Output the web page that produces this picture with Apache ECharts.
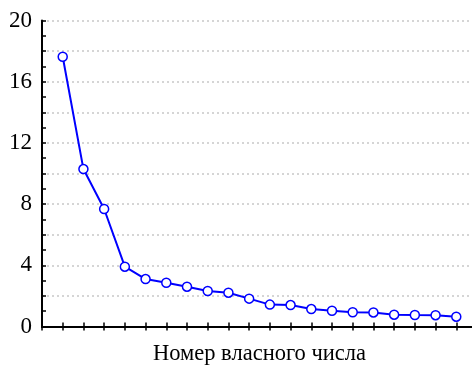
<!DOCTYPE html>
<html><head><meta charset="utf-8">
<script src="https://cdn.jsdelivr.net/npm/echarts@6/dist/echarts.min.js"></script>
<style>html,body{margin:0;padding:0;background:#fff}#c{width:472px;height:365px}</style>
</head><body><div id="c"></div>
<script>
const eigenIndex = [1,2,3,4,5,6,7,8,9,10,11,12,13,14,15,16,17,18,19,20];
const eigenValues = [17.63,10.29,7.68,3.91,3.10,2.86,2.60,2.32,2.21,1.82,1.43,1.40,1.14,1.03,0.93,0.92,0.77,0.75,0.74,0.64];
const yTickLabels = [0,4,8,12,16,20];
const xTitle = 'Номер власного числа';

const chart = echarts.init(document.getElementById('c'), null, {renderer:'canvas'});
const font = '"Liberation Serif","Times New Roman",serif';
const axisLine = {show:true, lineStyle:{color:'#000', width:2}};
chart.setOption({
  animation:false,
  grid:{left:42, top:20.5, width:435, height:306, containLabel:false, outerBoundsMode:'none'},
  xAxis:[
    {type:'value', min:0, max:21, interval:1, position:'bottom',
     axisLine:axisLine, axisTick:{show:true, inside:true, length:4, lineStyle:{color:'#000',width:1.5}},
     axisLabel:{show:false}, splitLine:{show:false},
     name:xTitle, nameLocation:'middle', nameGap:16,
     nameTextStyle:{fontFamily:font, fontSize:22.5, color:'#000', verticalAlign:'top'}},
    {type:'value', min:0, max:21, interval:1, position:'top',
     axisLine:axisLine, axisTick:{show:true, inside:true, length:4, lineStyle:{color:'#000',width:1.5}},
     axisLabel:{show:false}, splitLine:{show:false}}
  ],
  yAxis:[
    {type:'value', min:0, max:20, interval:1, position:'left',
     axisLine:axisLine, axisTick:{show:true, inside:true, length:4, lineStyle:{color:'#000',width:1.5}},
     axisLabel:{show:true, margin:10, fontFamily:font, fontSize:23, color:'#000',
       formatter:v=> yTickLabels.includes(v) ? String(v) : ''},
     splitLine:{show:false}},
    {type:'value', min:0, max:20, interval:2, position:'right',
     axisLine:{show:false}, axisTick:{show:false}, axisLabel:{show:false},
     splitLine:{show:true, lineStyle:{color:'#c8c8c8', width:1.5, type:[2,3]}}},
    {type:'value', min:0, max:20, interval:1, position:'right', offset:0,
     axisLine:axisLine, axisTick:{show:true, inside:true, length:4}, axisLabel:{show:false},
     splitLine:{show:false}}
  ],
  series:[{
    type:'line', xAxisIndex:0, yAxisIndex:0,
    data:eigenIndex.map((x,i)=>[x, eigenValues[i]]),
    symbol:'circle', symbolSize:9, showSymbol:true,
    lineStyle:{color:'#0000ff', width:2},
    itemStyle:{color:'#ffffff', borderColor:'#0000ff', borderWidth:1.5},
    z:5
  }]
});
</script></body></html>
